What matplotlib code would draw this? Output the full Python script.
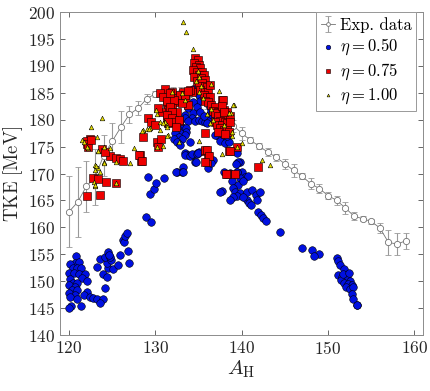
import numpy as np
import matplotlib
matplotlib.use("agg")
from matplotlib import pyplot as plt

plt.rcParams["font.family"] = "serif"
plt.rcParams["font.serif"] = ["cmr10", "DejaVu Serif"]
plt.rcParams["mathtext.fontset"] = "cm"
plt.rcParams["axes.formatter.use_mathtext"] = True
plt.rcParams["axes.unicode_minus"] = False

# experimental data
exp_a = list(range(120, 160))
exp_tke = [162.9, 164.7, 167.6, 169.3, 173.3, 176.0, 178.6, 181.0, 182.1, 183.9,
           184.8, 185.1, 185.2, 185.2, 184.8, 184.2, 183.0, 181.7, 180.3, 178.9,
           177.5, 176.2, 175.1, 174.0, 173.0, 171.8, 170.6, 169.5, 168.1, 167.2,
           165.9, 165.0, 163.6, 162.1, 161.6, 161.1, 159.9, 157.2, 156.9, 157.5]
exp_err = [6.6, 6.5, 4.8, 5.2, 3.8, 3.4, 3.0, 1.6, 1.3, 0.9,
           0.6, 0.6, 0.8, 0.8, 1.0, 1.0, 1.0, 1.0, 1.0, 1.1,
           1.2, 0.6, 0.5, 0.8, 0.7, 0.9, 1.2, 0.6, 1.0, 0.8,
           0.6, 0.9, 1.2, 0.8, 0.5, 0.5, 0.9, 2.3, 2.0, 1.5]

# eta = 0.50
blue_a = [120.8, 120.7, 121.2, 120.1, 120.4, 120.9, 121.36, 120.04, 120.6, 121.16,
          121.85, 121.47, 120.1, 122.05, 120.5, 120.96, 120.04, 120.7, 120.3, 120.9,
          120.04, 120.7, 120.1, 120.9, 120.2, 120.04, 122.05, 121.74, 122.4, 121.4,
          122.8, 123.2, 123.9, 123.63, 124.17, 123.98, 124.37, 124.56, 125.13, 125.64,
          124.44, 124.83, 123.28, 123.6, 124.17, 124.75, 124.56, 124.67, 125.9, 126.87,
          126.95, 126.3, 126.4, 126.49, 126.68, 128.9, 129.47, 129.4, 129.85, 130.1,
          130.95, 129.2,
          134.4, 135.0, 135.2, 134.4, 134.8, 133.8, 134.4, 135.2, 133.4, 134.2,
          133.4, 133.8, 134.6, 135.0, 135.4, 135.8, 136.1, 136.3, 136.7, 136.5,
          136.9, 136.1, 132.7, 133.1, 132.5, 133.6, 133.6, 132.9, 132.3, 133.4,
          132.7, 133.1, 132.1, 132.5, 132.9, 134.0, 133.4, 133.8, 134.2, 134.8,
          135.0, 134.6, 136.3, 136.7, 136.1, 133.2, 133.06, 132.5, 132.4, 133.2,
          137.5, 137.3, 137.5, 137.7, 137.3, 137.9, 138.3, 137.5, 138.1, 138.5,
          139.4, 139.8, 139.4, 140.0, 139.4, 139.0, 140.4, 139.8, 137.9, 138.15,
          136.9, 135.6, 135.96, 138.3,
          133.44, 134.0, 134.2, 134.8, 134.98, 134.7, 136.5, 139.6, 139.35, 138.7,
          139.5, 140.7, 138.85, 139.6, 140.1, 139.0, 137.7, 137.5, 139.2, 139.8,
          139.5, 138.97, 138.65, 140.6, 141.2, 141.7, 142.1, 141.8, 140.6, 140.8,
          141.05, 140.2, 141.9, 142.25, 142.5, 142.8, 144.45, 146.96, 148.2, 148.9,
          148.4,
          151.02, 151.1, 151.4, 151.8, 151.2, 151.6, 151.98, 152.2, 151.5, 152.5,
          151.8, 152.3, 152.8, 152.1, 152.56, 152.94, 152.76, 152.94, 153.4, 151.7,
          152.4, 153.3]
blue_tke = [154.7, 153.3, 153.5, 153.1, 152.4, 152.4, 152.4, 151.5, 151.5, 151.3,
            151.3, 150.5, 150.4, 150.0, 149.7, 149.6, 149.3, 149.0, 148.4, 148.4,
            147.8, 147.4, 147.0, 146.6, 145.4, 145.1, 148.0, 147.4, 147.0, 145.4,
            146.9, 146.6, 146.6, 145.9, 148.7, 151.3, 150.8, 152.5, 152.2, 153.0,
            153.4, 153.9, 152.6, 154.1, 154.4, 154.4, 155.4, 154.9, 154.8, 155.6,
            153.4, 157.7, 157.3, 158.4, 158.9, 162.0, 160.9, 166.2, 167.2, 168.3,
            169.1, 169.4,
            185.7, 184.6, 183.4, 183.3, 182.4, 182.25, 181.2, 181.5, 180.9, 180.3,
            180.3, 179.8, 179.8, 180.0, 179.8, 179.6, 180.6, 182.4, 182.4, 181.6,
            180.9, 179.8, 179.35, 178.7, 178.4, 178.4, 177.8, 177.5, 177.5, 177.1,
            176.7, 176.4, 176.4, 175.8, 175.3, 175.9, 173.8, 173.5, 173.5, 173.8,
            173.95, 172.2, 172.2, 172.5, 171.0, 171.3, 170.35, 170.35, 170.2, 170.2,
            180.3, 178.7, 178.1, 177.2, 176.9, 176.6, 176.2, 176.1, 175.6, 175.9,
            173.8, 172.2, 171.9, 170.35, 170.35, 169.7, 169.4, 169.1, 170.35, 169.9,
            177.2, 180.6, 179.35, 176.9,
            173.5, 173.3, 173.6, 173.6, 173.8, 172.1, 171.9, 172.2, 171.8, 170.1,
            170.3, 169.6, 168.7, 167.9, 168.6, 167.4, 166.8, 166.5, 166.5, 166.3,
            165.8, 165.7, 165.1, 166.6, 166.95, 166.0, 166.5, 165.1, 165.1, 164.6,
            164.2, 165.7, 162.9, 162.3, 161.8, 161.2, 159.1, 156.2, 155.7, 155.0,
            154.7,
            154.3, 153.75, 153.0, 152.3, 151.15, 150.8, 151.15, 150.5, 150.2, 150.1,
            149.6, 149.5, 149.3, 148.9, 148.5, 149.0, 147.6, 146.6, 145.5, 151.3,
            151.5, 145.6]

# eta = 0.75
red_a = [134.6, 134.9, 134.5, 135.0, 134.7, 135.2, 134.4, 134.8, 135.4, 135.0,
         135.6, 134.5, 135.3, 135.8, 134.8, 135.4, 135.0, 135.7, 135.95, 135.2,
         135.8, 136.1, 135.6, 135.95, 136.3, 135.8, 136.1, 137.7, 136.5, 136.9,
         136.7, 137.3, 136.9, 137.9, 138.3, 137.3, 137.9, 137.5, 136.9, 138.1,
         137.1, 137.7, 138.3, 137.5, 137.9, 138.3, 137.3, 138.5, 138.1, 138.65,
         138.65, 139.4, 138.5, 135.8, 135.8, 135.95, 138.3, 139.2,
         131.1, 131.9, 131.7, 132.3, 132.7, 132.1, 131.3, 131.5, 131.9, 132.5,
         131.7, 131.3, 132.1, 132.7, 131.5, 133.2, 132.9, 133.4, 134.2, 134.0,
         129.2, 129.5, 128.6, 128.2, 128.3, 130.2, 130.7, 130.5, 130.9, 131.3,
         132.1, 131.7, 130.7, 131.7, 131.9, 131.3, 131.9, 132.3, 131.5, 132.7,
         132.4, 130.0, 133.8, 133.1, 133.4, 133.8, 135.8, 136.1,
         122.4, 122.1, 122.05, 122.2, 123.8, 124.75, 125.4, 125.9, 126.2, 124.2,
         122.75, 123.3, 124.3, 122.05, 123.6, 125.4, 128.15, 128.4, 130.3, 130.3,
         135.95, 136.2, 135.8, 138.65, 138.2, 141.9, 137.8, 137.7, 137.9, 136.3,
         122.6]
red_tke = [191.4, 191.0, 190.5, 190.2, 189.7, 189.6, 189.3, 188.9, 188.8, 188.3,
           188.3, 188.0, 187.7, 187.4, 187.1, 186.8, 186.3, 186.3, 186.0, 185.5,
           185.2, 185.2, 184.6, 184.3, 184.3, 183.5, 183.3, 183.7, 182.75, 182.4,
           181.6, 181.5, 181.2, 181.8, 181.5, 180.6, 180.9, 179.8, 179.6, 179.6,
           179.0, 179.0, 179.35, 178.4, 178.1, 178.4, 177.8, 177.8, 177.3, 180.6,
           179.6, 175.0, 174.1, 177.5, 174.1, 172.2, 170.0, 170.0,
           185.7, 185.1, 184.1, 184.1, 183.5, 183.25, 183.1, 181.8, 182.1, 181.5,
           180.9, 180.3, 180.0, 179.8, 179.35, 185.2, 184.6, 184.0, 185.1, 185.5,
           180.3, 179.5, 176.75, 173.5, 172.3, 175.9, 176.4, 184.9, 184.2, 183.4,
           183.6, 184.9, 181.5, 182.4, 181.5, 180.9, 180.3, 179.6, 179.6, 180.0,
           178.6, 179.0, 182.75, 183.1, 184.6, 185.4, 174.4, 173.3,
           176.4, 176.1, 175.5, 175.0, 174.6, 173.3, 172.8, 172.7, 172.4, 174.0,
           169.1, 168.9, 168.4, 165.8, 166.0, 168.3, 173.4, 172.4, 182.25, 175.0,
           174.3, 173.3, 172.1, 174.1, 169.9, 171.2, 183.7, 182.6, 181.5, 186.5,
           176.2]

# eta = 1.00
yel_a = [133.2, 133.5, 134.4, 134.7, 135.1, 136.5, 137.4, 139.15, 138.8, 131.5,
         132.7, 135.1, 137.7, 140.0, 138.85, 138.5, 136.3, 136.7, 131.9, 133.4,
         133.06, 131.1, 131.4, 122.5, 123.8, 121.5, 123.2, 123.3, 122.2, 123.0,
         123.3, 123.6, 122.9, 123.0, 124.0, 125.45, 125.45, 127.1, 127.5, 128.6,
         129.0, 129.4, 130.2, 130.9, 131.4, 130.5, 130.2, 130.1, 131.3, 130.9,
         135.0, 121.7, 122.05, 123.4, 124.0, 124.8, 123.1, 124.1, 123.05, 122.97,
         130.5, 139.0, 139.4, 142.3, 143.3, 138.85, 128.5, 129.3,
         134.9, 135.3, 135.5, 136.4, 138.0, 136.0]
yel_tke = [198.1, 196.3, 193.2, 187.1, 188.0, 186.6, 185.35, 182.75, 181.2, 177.2,
           175.9, 176.1, 173.6, 175.6, 176.9, 181.2, 179.35, 180.0, 185.2, 183.7,
           184.9, 179.6, 179.0, 178.6, 180.4, 176.2, 176.7, 174.1, 174.8, 171.6,
           171.0, 170.2, 168.5, 167.7, 172.2, 172.2, 168.3, 171.9, 174.8, 178.1,
           178.2, 178.4, 175.0, 175.1, 177.05, 179.5, 181.0, 181.8, 178.6, 179.35,
           185.2, 175.9, 174.9, 174.1, 174.9, 174.8, 171.4, 172.0, 170.7, 167.9,
           178.0, 182.75, 175.0, 172.5, 171.5, 177.8, 177.9, 178.35,
           189.0, 186.2, 184.0, 182.0, 179.0, 181.0]

fig = plt.figure(figsize=(4.3, 3.91), dpi=100)
ax = fig.add_axes([0.1395, 0.1432, 0.8442, 0.8261])

grey = "0.45"
h_exp = ax.errorbar(exp_a, exp_tke, yerr=exp_err, color=grey, ecolor="0.6", marker="o",
                    markersize=4.5, markerfacecolor="white", markeredgecolor=grey,
                    markeredgewidth=0.6, linewidth=0.6, elinewidth=0.8, capsize=2.2,
                    capthick=0.6, label="Exp. data", zorder=2)
h_b = ax.scatter(blue_a, blue_tke, s=30, c="#0010e0", edgecolors="k", linewidths=0.4,
                 label=r"$\eta = 0.50$", zorder=3)
h_r = ax.scatter(red_a, red_tke, s=26, c="#ee0000", marker="s", edgecolors="k",
                 linewidths=0.4, label=r"$\eta = 0.75$", zorder=4)
h_y = ax.scatter(yel_a, yel_tke, s=11, c="#e8e000", marker="^", edgecolors="k",
                 linewidths=0.4, label=r"$\eta = 1.00$", zorder=5)

ax.set_xlim(118.95, 161.0)
ax.set_ylim(140, 200)
ax.set_xticks(np.arange(120, 161, 10))
ax.set_yticks(np.arange(140, 201, 5))
ax.tick_params(direction="in", top=True, right=True, length=3.5, width=0.6,
               color="0.3", labelsize=12.5, labelcolor="0.15")
for s in ax.spines.values():
    s.set_color("0.55")
    s.set_linewidth(0.7)

ax.set_xlabel(r"$A_\mathrm{H}$", fontsize=15, color="0.15", labelpad=1)
ax.set_ylabel(r"$\mathrm{TKE\ [MeV]}$", fontsize=13.5, color="0.15", labelpad=2)

leg = ax.legend([h_exp, h_b, h_r, h_y],
                ["Exp. data", r"$\eta = 0.50$", r"$\eta = 0.75$", r"$\eta = 1.00$"],
                loc="upper right", bbox_to_anchor=(0.982, 1.0), fontsize=12,
                fancybox=False, framealpha=1, edgecolor="0.6", borderpad=0.3,
                handlelength=0.8, handletextpad=0.3, labelspacing=0.25,
                borderaxespad=0.0, markerscale=0.6)
leg.get_frame().set_linewidth(0.7)

fig.savefig("out.png", dpi=100)
